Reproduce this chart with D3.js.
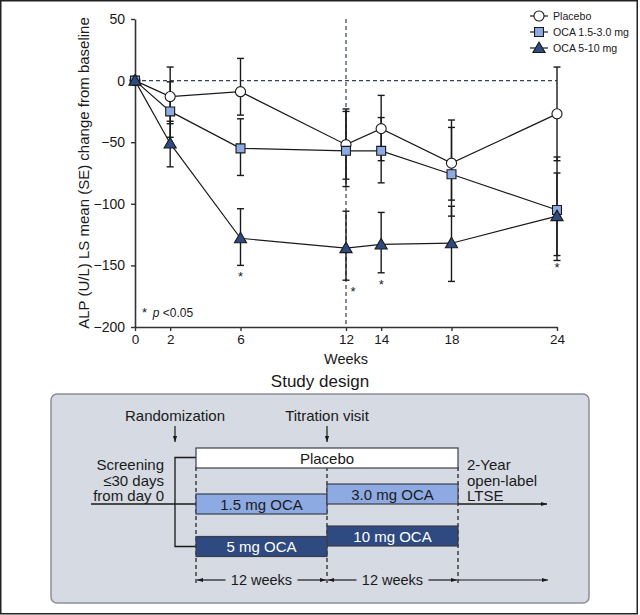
<!DOCTYPE html>
<html><head><meta charset="utf-8">
<script src="https://cdn.jsdelivr.net/npm/d3@7"></script>
<style>
html,body{margin:0;padding:0;background:#fff;}
svg{display:block;font-family:"Liberation Sans",Arial,sans-serif;}
</style></head>
<body>
<svg id="chart" width="640" height="615"></svg>
<script>
// ---------- data ----------
const weeks = [0, 2, 6, 12, 14, 18, 24];
const xTicks = [0, 2, 6, 12, 14, 18, 24];
const yTicks = [50, 0, -50, -100, -150, -200];
const seriesNames = ["Placebo", "OCA 1.5-3.0 mg", "OCA 5-10 mg"];
const placebo   = [0, -13, -9, -52, -39, -67, -27];
const placeboHi = [0, 11, 18, -23, -12, -32, 11];
const placeboLo = [0, -35, -28, -80, -65, -97, -65];
const oca15     = [0, -25, -55, -57, -57, -76, -105];
const oca15Hi   = [0, -1, -31, -25, -30, -38, -62];
const oca15Lo   = [0, -46, -77, -86, -83, -110, -146];
const oca510    = [0, -51, -128, -136, -133, -132, -110];
const oca510Hi  = [0, -33, -104, -106, -107, -102, -75];
const oca510Lo  = [0, -70, -150, -162, -156, -163, -142];
const sigWeeks  = [6, 12, 14, 24];
const titrationWeek = 12;

// study design texts
const designTitle = "Study design";
const screeningLines = ["Screening", "≤30 days", "from day 0"];
const lteLines = ["2-Year", "open-label", "LTSE"];
const phase1Bars = ["Placebo", "1.5 mg OCA", "5 mg OCA"];
const phase2Bars = ["3.0 mg OCA", "10 mg OCA"];

// ---------- setup ----------
const svg = d3.select("#chart");
const ink = "#1a1a1a";
const lightBlue = "#8eaae2";
const darkBlue = "#2f4a80";

const x = d3.scaleLinear().domain([0, 24]).range([135, 557]);
const y = d3.scaleLinear().domain([-200, 50]).range([327, 19]);

// frame
svg.append("rect").attr("x", 0.75).attr("y", 0.75).attr("width", 636.5).attr("height", 613)
  .attr("fill", "none").attr("stroke", "#222").attr("stroke-width", 1.5);

// reference dashed lines
svg.append("line").attr("x1", x(0)).attr("x2", x(24)).attr("y1", y(0)).attr("y2", y(0))
  .attr("stroke", "#33415c").attr("stroke-width", 1.2).attr("stroke-dasharray", "4,3");
svg.append("line").attr("x1", x(titrationWeek)).attr("x2", x(titrationWeek)).attr("y1", y(50)).attr("y2", y(-200))
  .attr("stroke", "#33415c").attr("stroke-width", 1.2).attr("stroke-dasharray", "4,3");

// axes
const yAxis = svg.append("g").attr("transform", `translate(${x(0)},0)`)
  .call(d3.axisLeft(y).tickValues(yTicks).tickSize(4).tickPadding(6).tickSizeOuter(0));
const xAxis = svg.append("g").attr("transform", `translate(0,${y(-200)})`)
  .call(d3.axisBottom(x).tickValues(xTicks).tickSize(4).tickPadding(3).tickSizeOuter(0));
[yAxis, xAxis].forEach(a => {
  a.select(".domain").attr("stroke", "#333").attr("stroke-width", 1.6);
  a.selectAll(".tick line").attr("stroke", "#333").attr("stroke-width", 1.4);
  a.selectAll("text").attr("fill", ink).attr("font-family", "Liberation Sans, Arial, sans-serif");
});
yAxis.selectAll("text").attr("font-size", 14);
xAxis.selectAll("text").attr("font-size", 13.5);

svg.append("text").attr("x", x(titrationWeek)).attr("y", 364).attr("text-anchor", "middle")
  .attr("font-size", 14.5).attr("fill", ink).text("Weeks");
svg.append("text").attr("transform", `translate(89,${(y(50)+y(-200))/2}) rotate(-90)`)
  .attr("text-anchor", "middle").attr("font-size", 15).attr("fill", ink)
  .text("ALP (U/L) LS mean (SE) change from baseline");

// series
const series = [
  {name: seriesNames[0], v: placebo, hi: placeboHi, lo: placeboLo, shape: "circle", fill: "#fff"},
  {name: seriesNames[1], v: oca15, hi: oca15Hi, lo: oca15Lo, shape: "square", fill: lightBlue},
  {name: seriesNames[2], v: oca510, hi: oca510Hi, lo: oca510Lo, shape: "triangle", fill: darkBlue},
];
const symType = {circle: d3.symbolCircle, square: d3.symbolSquare, triangle: d3.symbolTriangle};
const symSize = {circle: 80, square: 80, triangle: 64};

const line = d3.line().x(d => x(d.w)).y(d => y(d.v));
series.forEach(s => {
  const pts = weeks.map((w, i) => ({w, v: s.v[i], hi: s.hi[i], lo: s.lo[i]}));
  svg.append("path").datum(pts).attr("d", line).attr("fill", "none")
    .attr("stroke", ink).attr("stroke-width", 1.2);
  s.pts = pts;
});
// error bars
series.forEach(s => {
  const g = svg.append("g").attr("stroke", ink).attr("stroke-width", 1.4);
  s.pts.filter(p => p.w > 0).forEach(p => {
    g.append("line").attr("x1", x(p.w)).attr("x2", x(p.w)).attr("y1", y(p.hi)).attr("y2", y(p.lo));
    [p.hi, p.lo].forEach(c => g.append("line").attr("x1", x(p.w) - 3.5).attr("x2", x(p.w) + 3.5)
      .attr("y1", y(c)).attr("y2", y(c)));
  });
});
// markers
series.forEach(s => {
  svg.append("g").selectAll("path").data(s.pts).join("path")
    .attr("transform", d => `translate(${x(d.w)},${y(d.v) + (s.shape === "triangle" ? 1 : 0)})`)
    .attr("d", d3.symbol().type(symType[s.shape]).size(symSize[s.shape]))
    .attr("fill", s.fill).attr("stroke", ink).attr("stroke-width", 1.1);
});
// significance asterisks
sigWeeks.forEach(w => {
  const i = weeks.indexOf(w);
  svg.append("text").attr("x", x(w) + (w === titrationWeek ? 7 : 0)).attr("y", y(oca510Lo[i]) + 16)
    .attr("text-anchor", "middle").attr("font-size", 13).attr("fill", ink).text("*");
});
// p note
const pn = svg.append("text").attr("x", 142).attr("y", 317).attr("font-size", 12).attr("fill", ink);
pn.append("tspan").attr("font-size", 13).text("* ");
pn.append("tspan").attr("font-style", "italic").attr("dx", 2).text("p");
pn.append("tspan").text(" <0.05");

// legend
series.forEach((s, i) => {
  const ly = 16 + i * 16;
  svg.append("line").attr("x1", 530).attr("x2", 548).attr("y1", ly).attr("y2", ly)
    .attr("stroke", ink).attr("stroke-width", 1.2);
  svg.append("path").attr("transform", `translate(539,${ly + (s.shape === "triangle" ? 1 : 0)})`)
    .attr("d", d3.symbol().type(symType[s.shape]).size(symSize[s.shape]))
    .attr("fill", s.fill).attr("stroke", ink).attr("stroke-width", 1.1);
  svg.append("text").attr("x", 553).attr("y", ly + 4).attr("font-size", 10.6).attr("fill", ink).text(s.name);
});

// ---------- study design ----------
const defs = svg.append("defs");
defs.append("marker").attr("id", "ah").attr("viewBox", "0 0 10 10").attr("refX", 10).attr("refY", 5)
  .attr("markerWidth", 7).attr("markerHeight", 6).attr("orient", "auto-start-reverse")
  .attr("markerUnits", "userSpaceOnUse")
  .append("path").attr("d", "M0,1.5 L10,5 L0,8.5 Z").attr("fill", ink);

svg.append("text").attr("x", 320).attr("y", 387).attr("text-anchor", "middle")
  .attr("font-size", 17).attr("fill", ink).text(designTitle);
svg.append("rect").attr("x", 51).attr("y", 394).attr("width", 538).attr("height", 209).attr("rx", 6)
  .attr("fill", "#d6dae3").attr("stroke", "#8a8e96").attr("stroke-width", 1.5);

const xd = d3.scaleLinear().domain([0, 24]).range([196, 458]); // design timeline (weeks)
const fs = 15;
// labels & arrows
svg.append("text").attr("x", 175).attr("y", 421).attr("text-anchor", "middle").attr("font-size", fs).attr("fill", ink).text("Randomization");
svg.append("text").attr("x", xd(12)).attr("y", 421).attr("text-anchor", "middle").attr("font-size", fs).attr("fill", ink).text("Titration visit");
[175, xd(12)].forEach(ax => svg.append("line").attr("x1", ax).attr("x2", ax).attr("y1", 426).attr("y2", 442)
  .attr("stroke", ink).attr("stroke-width", 1.2).attr("marker-end", "url(#ah)"));

// dashed verticals
[0, 12, 24].forEach(w => svg.append("line").attr("x1", xd(w)).attr("x2", xd(w)).attr("y1", 467).attr("y2", 585)
  .attr("stroke", ink).attr("stroke-width", 1.2).attr("stroke-dasharray", "4,3"));

// main line and bracket
svg.append("line").attr("x1", 91).attr("x2", xd(0)).attr("y1", 504).attr("y2", 504).attr("stroke", ink).attr("stroke-width", 1.3);
svg.append("path").attr("d", `M${xd(0)},457.5 H175 V546.5 H${xd(0)}`).attr("fill", "none").attr("stroke", ink).attr("stroke-width", 1.3);
svg.append("line").attr("x1", xd(24)).attr("x2", 547).attr("y1", 504).attr("y2", 504)
  .attr("stroke", ink).attr("stroke-width", 1.3).attr("marker-end", "url(#ah)");

// bars
const bars = [
  {t: phase1Bars[0], w0: 0, w1: 24, y0: 448, fill: "#fff", tc: ink},
  {t: phase1Bars[1], w0: 0, w1: 12, y0: 494, fill: lightBlue, tc: ink},
  {t: phase1Bars[2], w0: 0, w1: 12, y0: 536.5, fill: darkBlue, tc: "#fff"},
  {t: phase2Bars[0], w0: 12, w1: 24, y0: 484, fill: lightBlue, tc: ink},
  {t: phase2Bars[1], w0: 12, w1: 24, y0: 526, fill: darkBlue, tc: "#fff"},
];
bars.forEach(b => {
  svg.append("rect").attr("x", xd(b.w0)).attr("y", b.y0).attr("width", xd(b.w1) - xd(b.w0)).attr("height", 20)
    .attr("fill", b.fill).attr("stroke", "#3a3f4a").attr("stroke-width", 1.2);
  svg.append("text").attr("x", (xd(b.w0) + xd(b.w1)) / 2).attr("y", b.y0 + 15.5).attr("text-anchor", "middle")
    .attr("font-size", fs).attr("fill", b.tc).text(b.t);
});

// side texts
screeningLines.forEach((t, i) => svg.append("text").attr("x", 164).attr("y", 470 + i * 15.5)
  .attr("text-anchor", "end").attr("font-size", fs).attr("fill", ink).text(t));
lteLines.forEach((t, i) => svg.append("text").attr("x", 467).attr("y", 470 + i * 15.5)
  .attr("font-size", fs).attr("fill", ink).text(t));

// 12 weeks spans
[[0, 12], [12, 24]].forEach(([a, b]) => {
  const mid = (xd(a) + xd(b)) / 2;
  svg.append("text").attr("x", mid).attr("y", 585).attr("text-anchor", "middle").attr("font-size", 14.5).attr("fill", ink).text("12 weeks");
  svg.append("line").attr("x1", mid - 36).attr("x2", xd(a) + 1).attr("y1", 580).attr("y2", 580)
    .attr("stroke", ink).attr("stroke-width", 1.2).attr("marker-end", "url(#ah)");
  svg.append("line").attr("x1", mid + 36).attr("x2", xd(b) - 1).attr("y1", 580).attr("y2", 580)
    .attr("stroke", ink).attr("stroke-width", 1.2).attr("marker-end", "url(#ah)");
});
svg.append("line").attr("x1", xd(24)).attr("x2", 548).attr("y1", 580).attr("y2", 580)
  .attr("stroke", ink).attr("stroke-width", 1.2).attr("marker-end", "url(#ah)");
</script>
</body></html>
